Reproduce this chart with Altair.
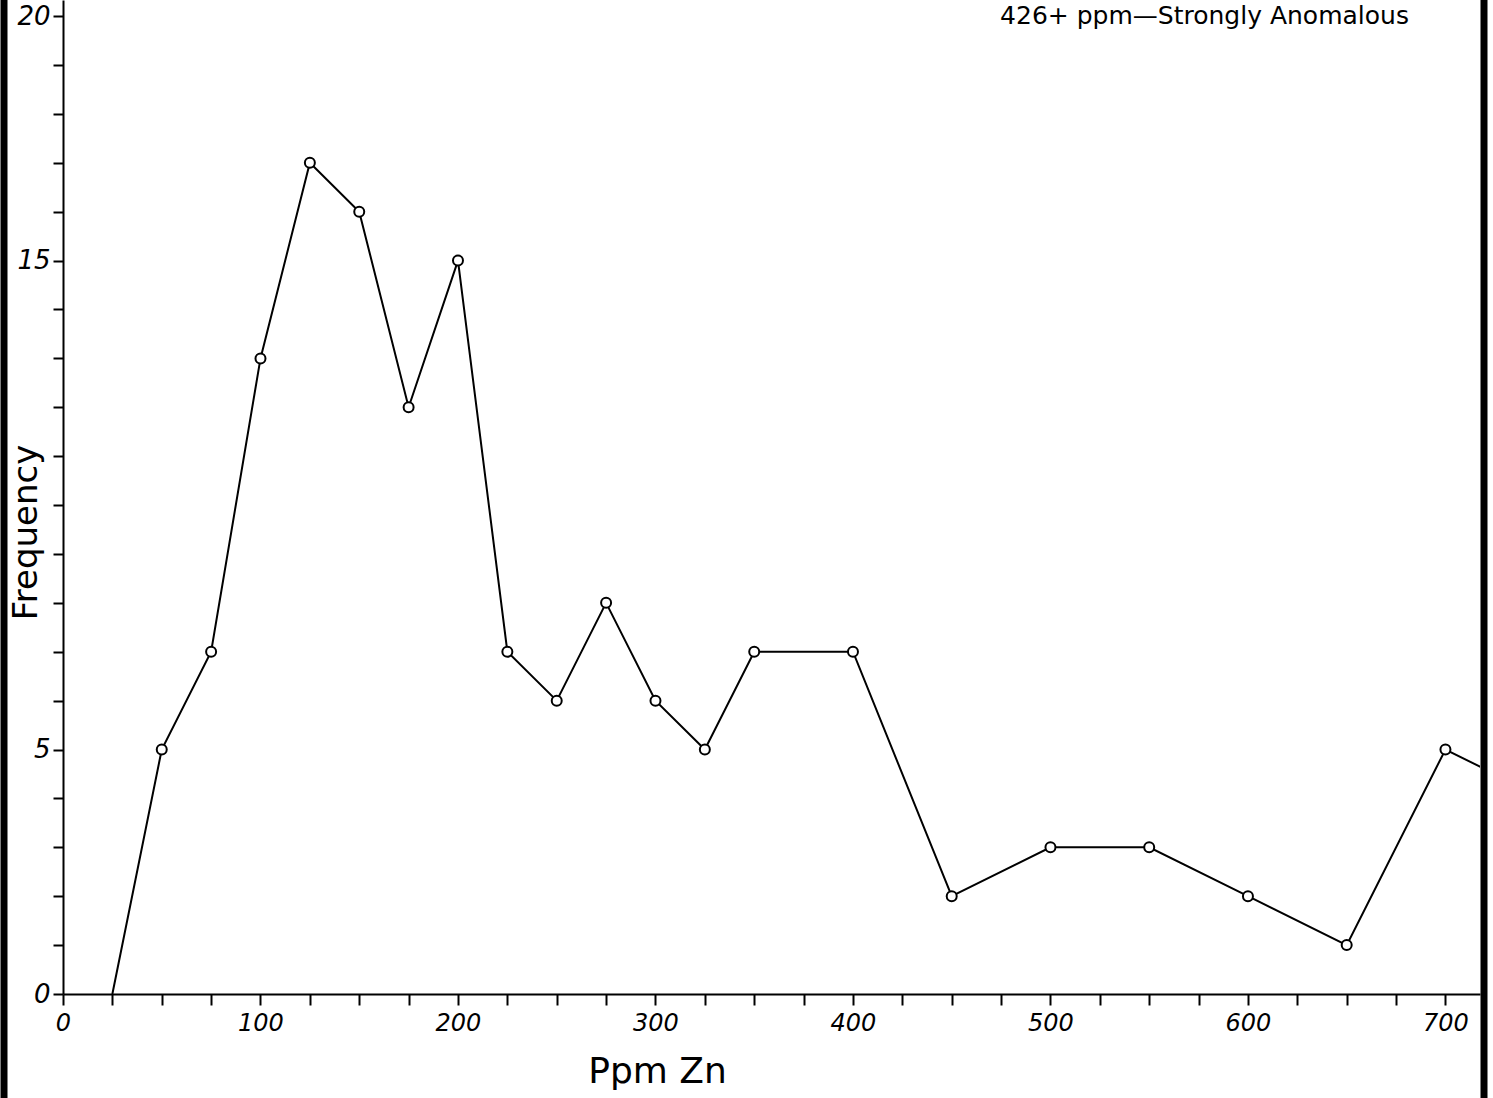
import altair as alt
import pandas as pd

# Data
ppm = [25, 50, 75, 100, 125, 150, 175, 200, 225, 250, 275, 300, 325, 350, 400,
       450, 500, 550, 600, 650, 700, 750]
freq = [0, 5, 7, 13, 17, 16, 12, 15, 7, 6, 8, 6, 5, 7, 7,
        2, 3, 3, 2, 1, 5, 4]
marked = [False] + [True] * 21

x_ticks = list(range(0, 726, 25))
y_ticks = list(range(0, 21))

note_text = ["426+ ppm\u2014Strongly Anomalous"]
note_x = [578]
note_y = [20.0]

df = pd.DataFrame({"ppm": ppm, "freq": freq, "marked": marked})
notes = pd.DataFrame({"text": note_text, "x": note_x, "y": note_y})

W, H = 1417, 994
xscale = alt.Scale(domain=[0, 717.5], nice=False, zero=False)
yscale = alt.Scale(domain=[0, 20.33], nice=False)

FONT = "DejaVu Sans"

x_enc = alt.X(
    "ppm:Q", scale=xscale,
    axis=alt.Axis(
        title="Ppm Zn", values=x_ticks,
        labelExpr="datum.value % 100 === 0 ? datum.value : ''",
        grid=False, tickSize=11, tickWidth=2, tickColor="black",
        domainColor="black", domainWidth=2,
        labelFont=FONT, labelFontStyle="italic", labelFontSize=24,
        labelColor="black", labelPadding=6, labelFlush=False,
        titleFont=FONT, titleFontSize=36, titleFontWeight="normal",
        titleColor="black", titleX=594, titleY=60, titleAlign="center",
        titleBaseline="top",
    ),
)
y_enc = alt.Y(
    "freq:Q", scale=yscale,
    axis=alt.Axis(
        title="Frequency", values=y_ticks,
        labelExpr="indexof([0, 5, 15, 20], datum.value) >= 0 ? datum.value : ''",
        grid=False, tickSize=10, tickWidth=2, tickColor="black",
        domainColor="black", domainWidth=2,
        labelFont=FONT, labelFontStyle="italic", labelFontSize=26,
        labelColor="black", labelPadding=3, labelFlush=False,
        titleFont=FONT, titleFontSize=34, titleFontWeight="normal",
        titleColor="black", titleAngle=-90, titleX=-27, titleY=532,
        titleAlign="center", titleBaseline="alphabetic",
    ),
)

line = alt.Chart(df).mark_line(color="black", strokeWidth=2, clip=True).encode(
    x=x_enc, y=y_enc
)
points = alt.Chart(df).transform_filter("datum.marked").mark_point(
    shape="circle", filled=False, color="black", size=100, strokeWidth=2,
    fill="white", fillOpacity=1, clip=True
).encode(x="ppm:Q", y="freq:Q")

note = alt.Chart(notes).mark_text(
    font=FONT, fontSize=25, color="black", align="center", baseline="middle"
).encode(x="x:Q", y="y:Q", text="text:N")

border_df = pd.DataFrame({"k": [0]})
left_border = alt.Chart(border_df).mark_rule(color="black", strokeWidth=7).encode(
    x=alt.value(-59), y=alt.value(0), y2=alt.value(1098)
)
right_border = alt.Chart(border_df).mark_rule(color="black", strokeWidth=7).encode(
    x=alt.value(1421), y=alt.value(0), y2=alt.value(1098)
)

chart = alt.layer(line, points, note, left_border, right_border).properties(
    width=W, height=H,
    autosize=alt.AutoSizeParams(type="none"),
    padding={"left": 63, "top": 0, "right": 13, "bottom": 104},
    background="white",
).configure_view(stroke=None)

chart.save("out.html", embed_options={"renderer": "svg", "actions": False})
